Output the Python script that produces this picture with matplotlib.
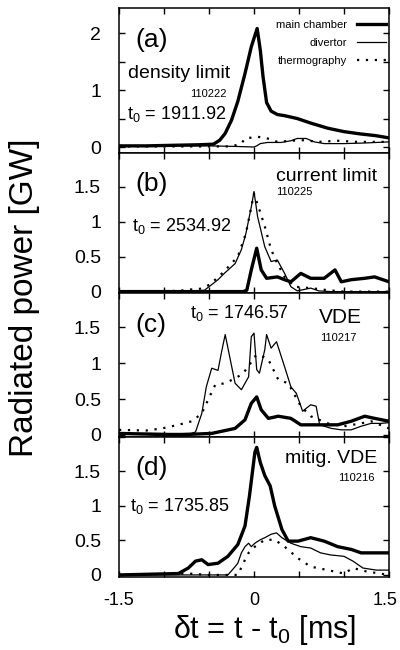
# plot.py - radiated power during disruptions, four stacked panels
# (main chamber bolometer, divertor bolometer and thermography).

import matplotlib
matplotlib.use("Agg")
import matplotlib.pyplot as plt
from matplotlib.ticker import MultipleLocator
from matplotlib.transforms import ScaledTranslation

plt.rcParams["font.family"] = ["Liberation Sans", "DejaVu Sans"]
plt.rcParams["mathtext.default"] = "regular"

# ---- data (time in ms, power in GW) ----
a_main_t = [-1.5, -1.2, -0.9, -0.6, -0.45, -0.38, -0.32, -0.25, -0.18, -0.10, -0.03, 0.035,
            0.07, 0.10, 0.14, 0.19, 0.26, 0.34, 0.48, 0.63, 0.82, 1.0, 1.18, 1.35, 1.5]
a_main_p = [0.02, 0.02, 0.03, 0.04, 0.05, 0.12, 0.24, 0.47, 0.8, 1.29, 1.76, 2.08,
            1.7, 1.24, 0.78, 0.63, 0.57, 0.55, 0.5, 0.42, 0.33, 0.27, 0.23, 0.2, 0.16]
a_div_t = [-1.5, -1.0, -0.5, -0.2, 0.0, 0.03, 0.07, 0.15, 0.3, 0.41, 0.48, 0.58, 0.67,
           0.78, 1.0, 1.22, 1.5]
a_div_p = [0.02, 0.02, 0.02, 0.01, 0.0, 0.02, 0.06, 0.08, 0.08, 0.11, 0.15, 0.15, 0.09,
           0.06, 0.06, 0.07, 0.09]
a_thermo_t = [-1.5, -0.8, -0.4, -0.25, -0.14, -0.10, 0.04, 0.15, 0.26, 0.41, 0.56, 0.71,
              0.93, 1.15, 1.5]
a_thermo_p = [0.01, 0.01, 0.01, 0.01, 0.06, 0.15, 0.18, 0.15, 0.09, 0.11, 0.12, 0.09,
              0.11, 0.09, 0.09]

b_main_t = [-1.5, -0.5, -0.12, -0.08, -0.03, 0.03, 0.08, 0.14, 0.26, 0.34, 0.41, 0.52,
            0.63, 0.78, 0.9, 0.97, 1.08, 1.23, 1.34, 1.5]
b_main_p = [0.0, 0.0, 0.0, 0.02, 0.31, 0.62, 0.31, 0.19, 0.21, 0.17, 0.14, 0.26,
            0.19, 0.19, 0.31, 0.14, 0.17, 0.19, 0.21, 0.14]
b_div_t = [-1.5, -0.8, -0.55, -0.4, -0.33, -0.21, -0.14, -0.09, -0.03, 0.0, 0.04, 0.12,
           0.19, 0.26, 0.34, 0.41, 0.48, 0.63, 0.72, 0.85, 1.5]
b_div_p = [0.0, 0.0, 0.02, 0.17, 0.26, 0.40, 0.6, 0.83, 1.21, 1.43, 1.07, 0.64,
           0.43, 0.45, 0.26, 0.07, 0.01, 0.05, 0.01, 0.0, 0.0]
b_thermo_t = [-1.5, -0.85, -0.7, -0.6, -0.49, -0.33, -0.18, -0.09, -0.03, 0.0, 0.06, 0.12,
              0.19, 0.26, 0.34, 0.45, 0.63, 0.82, 1.0, 1.5]
b_thermo_p = [0.0, 0.01, 0.03, 0.04, 0.1, 0.29, 0.5, 0.83, 1.21, 1.4, 1.17, 0.93,
              0.6, 0.4, 0.21, 0.07, 0.05, 0.02, 0.0, 0.0]

c_main_t = [-1.5, -0.85, -0.47, -0.21, -0.1, -0.03, 0.03, 0.08, 0.16, 0.27, 0.41, 0.52,
            0.71, 0.93, 1.08, 1.23, 1.34, 1.5]
c_main_p = [0.02, 0.0, 0.02, 0.09, 0.21, 0.44, 0.53, 0.35, 0.23, 0.26, 0.23, 0.14,
            0.14, 0.14, 0.19, 0.26, 0.23, 0.19]
c_div_t = [-1.5, -0.7, -0.65, -0.58, -0.53, -0.47, -0.40, -0.36, -0.32, -0.27, -0.21, -0.14,
           -0.06, -0.03, 0.0, 0.03, 0.06, 0.12, 0.14, 0.19, 0.25, 0.34, 0.41, 0.47,
           0.51, 0.54, 0.63, 0.69, 0.73, 0.86, 0.97, 1.08, 1.19, 1.3, 1.41, 1.5]
c_div_p = [0.02, 0.02, 0.04, 0.3, 0.67, 0.93, 0.9, 1.16, 1.4, 1.09, 0.72, 0.63,
           0.81, 1.37, 1.42, 0.91, 0.86, 1.19, 1.4, 1.21, 1.3, 0.95, 0.67, 0.58,
           0.44, 0.33, 0.42, 0.40, 0.14, 0.09, 0.07, 0.07, 0.12, 0.16, 0.16, 0.17]
c_thermo_t = [-1.5, -1.2, -1.02, -0.84, -0.69, -0.58, -0.51, -0.43, -0.32, -0.21, -0.14, -0.06,
              0.0, 0.06, 0.16, 0.27, 0.38, 0.45, 0.52, 0.63, 0.82, 1.0, 1.19, 1.3, 1.5]
c_thermo_p = [0.07, 0.06, 0.09, 0.14, 0.19, 0.3, 0.49, 0.7, 0.72, 0.79, 0.84, 0.95,
              1.09, 1.12, 1.05, 0.77, 0.72, 0.56, 0.4, 0.26, 0.16, 0.12, 0.16, 0.19, 0.09]

d_main_t = [-1.5, -0.84, -0.73, -0.65, -0.58, -0.51, -0.4, -0.29, -0.18, -0.1, -0.05, 0.01,
            0.03, 0.07, 0.12, 0.18, 0.23, 0.31, 0.38, 0.49, 0.63, 0.78, 0.93, 1.08,
            1.19, 1.3, 1.5]
d_main_p = [0.0, 0.02, 0.1, 0.2, 0.22, 0.15, 0.17, 0.27, 0.44, 0.71, 1.15, 1.78,
            1.85, 1.63, 1.44, 1.29, 1.0, 0.66, 0.49, 0.49, 0.54, 0.49, 0.41, 0.37,
            0.32, 0.32, 0.32]
d_div_t = [-1.5, -0.29, -0.21, -0.18, -0.14, -0.1, -0.06, -0.03, 0.01, 0.07, 0.12, 0.19,
           0.25, 0.31, 0.41, 0.52, 0.63, 0.74, 0.85, 1.0, 1.1, 1.21, 1.36, 1.5]
d_div_p = [0.0, 0.0, 0.12, 0.17, 0.32, 0.41, 0.46, 0.41, 0.46, 0.51, 0.54, 0.59,
           0.61, 0.54, 0.46, 0.41, 0.39, 0.32, 0.29, 0.27, 0.2, 0.1, 0.07, 0.07]
d_thermo_t = [-1.5, -0.73, -0.5, -0.18, -0.1, -0.06, 0.01, 0.12, 0.23, 0.34, 0.49, 0.63,
              0.82, 1.0, 1.1, 1.25, 1.5]
d_thermo_p = [0.0, 0.02, 0.0, 0.0, 0.22, 0.32, 0.41, 0.51, 0.51, 0.41, 0.24, 0.12,
              0.07, 0.02, 0.1, 0.05, 0.0]

# Panel texts.
panel_tags = ["(a)", "(b)", "(c)", "(d)"]
panel_titles = ["density limit", "current limit", "VDE", "mitig. VDE"]
shot_numbers = ["110222", "110225", "110217", "110216"]
t0_values = ["1911.92", "2534.92", "1746.57", "1735.85"]
series_labels = ["main chamber", "divertor", "thermography"]

# Axis ticks and limits.
x_ticks = [-1.5, 0, 1.5]
x_tick_labels = ["-1.5", "0", "1.5"]
a_y_ticks = [0, 1, 2]
a_y_tick_labels = ["0", "1", "2"]
y_ticks = [0, 0.5, 1, 1.5]
y_tick_labels = ["0", "0.5", "1", "1.5"]
y_limits = [(-0.105, 2.44), (-0.02, 1.98), (-0.03, 1.98), (-0.03, 2.0)]


def main():
    fig = plt.figure(figsize=(4, 6.5), dpi=100)
    gs = fig.add_gridspec(4, 1, height_ratios=[145, 140, 144, 140], hspace=0,
                          left=0.2975, right=0.9725, top=0.9877, bottom=0.1123)
    axes = [fig.add_subplot(gs[i]) for i in range(4)]

    data = [
        (a_main_t, a_main_p, a_div_t, a_div_p, a_thermo_t, a_thermo_p),
        (b_main_t, b_main_p, b_div_t, b_div_p, b_thermo_t, b_thermo_p),
        (c_main_t, c_main_p, c_div_t, c_div_p, c_thermo_t, c_thermo_p),
        (d_main_t, d_main_p, d_div_t, d_div_p, d_thermo_t, d_thermo_p),
    ]

    for i, ax in enumerate(axes):
        mt, mp, dt, dp, tt, tp = data[i]
        ax.plot(tt, tp, color="black", lw=1.6, ls=(0, (1, 3)), label=series_labels[2])
        ax.plot(dt, dp, color="black", lw=0.9, label=series_labels[1])
        ax.plot(mt, mp, color="black", lw=2.4, label=series_labels[0])

        ax.set_xlim(-1.5, 1.5)
        ax.set_ylim(*y_limits[i])
        ax.set_xticks(x_ticks)
        ax.xaxis.set_minor_locator(MultipleLocator(0.5))
        if i == 0:
            ax.set_yticks(a_y_ticks)
            ax.set_yticklabels(a_y_tick_labels)
        else:
            ax.set_yticks(y_ticks)
            ax.set_yticklabels(y_tick_labels)
        ax.yaxis.set_minor_locator(MultipleLocator(0.5))

        if i == 3:
            ax.set_xticklabels(x_tick_labels)
        else:
            ax.set_xticklabels([])

        ax.tick_params(which="both", direction="in", top=True, right=True,
                       length=4, width=1)
        ax.tick_params(axis="y", labelsize=14, pad=13)
        ax.tick_params(axis="x", labelsize=13, pad=11)
        for spine in ax.spines.values():
            spine.set_linewidth(1.1)

        ax.text(0.06, 0.78, panel_tags[i], transform=ax.transAxes,
                fontsize=19, ha="left", va="center")

    # The last x tick label sits a bit left of the axis end, as in the original.
    last = axes[3].get_xticklabels()[-1]
    last.set_transform(last.get_transform() + ScaledTranslation(-0.035, 0, fig.dpi_scale_trans))

    # Panel (a) annotations and legend.
    ax = axes[0]
    ax.text(0.033, 0.55, panel_titles[0], transform=ax.transAxes, fontsize=14,
            ha="left", va="center")
    ax.text(0.40, 0.41, shot_numbers[0], transform=ax.transAxes, fontsize=8,
            ha="right", va="center")
    ax.text(0.03, 0.27, "$t_0$ = " + t0_values[0], transform=ax.transAxes,
            fontsize=13, ha="left", va="center")
    handles, labels = ax.get_legend_handles_labels()
    ax.legend(handles[::-1], labels[::-1], loc="upper right",
              bbox_to_anchor=(0.99, 0.92), frameon=False, markerfirst=False,
              fontsize=8, handlelength=2.6, handletextpad=0.9,
              labelspacing=0.75, borderpad=0, borderaxespad=0)

    # Panel (b).
    ax = axes[1]
    ax.text(0.955, 0.83, panel_titles[1], transform=ax.transAxes, fontsize=14,
            ha="right", va="center")
    ax.text(0.58, 0.72, shot_numbers[1], transform=ax.transAxes, fontsize=8,
            ha="left", va="center")
    ax.text(0.05, 0.48, "$t_0$ = " + t0_values[1], transform=ax.transAxes,
            fontsize=13, ha="left", va="center")

    # Panel (c).
    ax = axes[2]
    ax.text(0.82, 0.83, panel_titles[2], transform=ax.transAxes, fontsize=15,
            ha="center", va="center")
    ax.text(0.745, 0.69, shot_numbers[2], transform=ax.transAxes, fontsize=8,
            ha="left", va="center")
    ax.text(0.263, 0.86, "$t_0$ = " + t0_values[2], transform=ax.transAxes,
            fontsize=13, ha="left", va="center")

    # Panel (d).
    ax = axes[3]
    ax.text(0.955, 0.85, panel_titles[3], transform=ax.transAxes, fontsize=14,
            ha="right", va="center")
    ax.text(0.948, 0.71, shot_numbers[3], transform=ax.transAxes, fontsize=8,
            ha="right", va="center")
    ax.text(0.04, 0.51, "$t_0$ = " + t0_values[3], transform=ax.transAxes,
            fontsize=13, ha="left", va="center")

    # Shared axis labels.
    fig.text(25 / 400, 1 - 298 / 650, "Radiated power [GW]", rotation=90,
             fontsize=24, ha="center", va="center")
    fig.text(265 / 400, 1 - 630 / 650, "δt = t - $t_0$ [ms]", fontsize=22,
             ha="center", va="center")

    fig.savefig("out.png", dpi=100)


if __name__ == "__main__":
    main()
